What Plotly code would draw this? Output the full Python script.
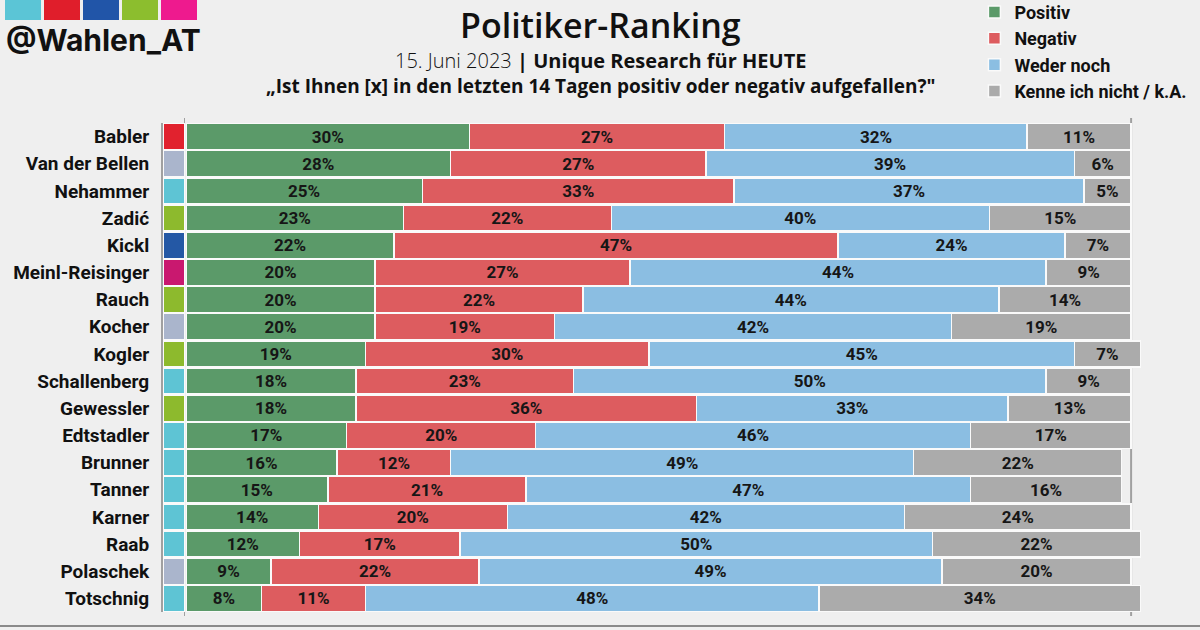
import plotly.graph_objects as go

# data
politiker = ['Babler', 'Van der Bellen', 'Nehammer', 'Zadić', 'Kickl', 'Meinl-Reisinger', 'Rauch',
             'Kocher', 'Kogler', 'Schallenberg', 'Gewessler', 'Edtstadler', 'Brunner', 'Tanner',
             'Karner', 'Raab', 'Polaschek', 'Totschnig']
positiv = [30, 28, 25, 23, 22, 20, 20, 20, 19, 18, 18, 17, 16, 15, 14, 12, 9, 8]
negativ = [27, 27, 33, 22, 47, 27, 22, 19, 30, 23, 36, 20, 12, 21, 20, 17, 22, 11]
weder_noch = [32, 39, 37, 40, 24, 44, 44, 42, 45, 50, 33, 46, 49, 47, 42, 50, 49, 48]
kenne_nicht = [11, 6, 5, 15, 7, 9, 14, 19, 7, 9, 13, 17, 22, 16, 24, 22, 20, 34]
partei = ['SPÖ', 'BP', 'ÖVP', 'Grüne', 'FPÖ', 'NEOS', 'Grüne', 'BP', 'Grüne', 'ÖVP', 'Grüne', 'ÖVP',
          'ÖVP', 'ÖVP', 'ÖVP', 'ÖVP', 'BP', 'ÖVP']

partei_farben = {'SPÖ': '#E1222E', 'BP': '#AAB5CC', 'ÖVP': '#5EC4D4', 'Grüne': '#8DBA2D',
                 'FPÖ': '#2458A5', 'NEOS': '#C9186F'}

serien = [('Positiv', positiv, '#5B9A69'),
          ('Negativ', negativ, '#DD5C5F'),
          ('Weder noch', weder_noch, '#8BBEE2'),
          ('Kenne ich nicht / k.A.', kenne_nicht, '#ABABAB')]

fig = go.Figure()

# party colour column
fig.add_trace(go.Bar(y=politiker, x=[1] * len(politiker), orientation='h', xaxis='x2', yaxis='y',
                     marker=dict(color=[partei_farben[p] for p in partei], line=dict(color='#FAFAFA', width=1.5)),
                     showlegend=False, hoverinfo='skip'))

for name, werte, farbe in serien:
    fig.add_trace(go.Bar(y=politiker, x=werte, name=name, orientation='h', xaxis='x', yaxis='y',
                         marker=dict(color=farbe, line=dict(color='#FAFAFA', width=1.5)),
                         text=[f'{v}%' for v in werte], textposition='inside', insidetextanchor='middle',
                         textangle=0, constraintext='none',
                         textfont=dict(family='Roboto', size=17, color='#161616', weight='bold')))

fig.update_layout(
    width=1200, height=630,
    barmode='stack', bargap=0.04,
    paper_bgcolor='#EFEFEF', plot_bgcolor='rgba(0,0,0,0)',
    margin=dict(l=0, r=0, t=0, b=0, autoexpand=False),
    xaxis=dict(domain=[186 / 1200, 1150 / 1200], range=[0, 102], showgrid=False, zeroline=False,
               showticklabels=False, anchor='y'),
    xaxis2=dict(domain=[163 / 1200, 185 / 1200], range=[0, 1], showgrid=False, zeroline=False,
                showticklabels=False, anchor='y'),
    yaxis=dict(domain=[1 - 612 / 630, 1 - 123 / 630], anchor='x2', categoryorder='array',
               categoryarray=politiker, autorange='reversed', showgrid=False, ticks='',
               showline=True, linecolor='#A0A0A0', linewidth=2, ticklabelstandoff=8,
               tickfont=dict(family='Roboto', size=19, color='#111111', weight='bold')),
    legend=dict(x=0.812, y=1.01, xanchor='left', yanchor='top', bgcolor='rgba(0,0,0,0)',
                font=dict(family='Roboto', size=18, color='#111111', weight='bold'), traceorder='normal'),
    font=dict(family='Open Sans'),
)

# frame lines
fig.add_shape(type='line', xref='x2', yref='paper', x0=1, x1=1, y0=1 - 616 / 630, y1=1 - 118 / 630,
              line=dict(color='#A0A0A0', width=2), layer='below')
fig.add_shape(type='line', xref='x', yref='paper', x0=100, x1=100, y0=1 - 616 / 630, y1=1 - 118 / 630,
              line=dict(color='#A0A0A0', width=2), layer='below')
fig.add_shape(type='line', xref='paper', yref='paper', x0=0, x1=1, y0=1 - 626 / 630, y1=1 - 626 / 630,
              line=dict(color='#8A8A8A', width=2))

# logo squares
logo_farben = ['#5BC5D6', '#E01E2B', '#2155A8', '#8CBE2E', '#EE1A8E']
for i, c in enumerate(logo_farben):
    fig.add_shape(type='rect', xref='paper', yref='paper', x0=(5 + i * 39) / 1200, x1=(41 + i * 39) / 1200,
                  y0=1 - 20 / 630, y1=1, fillcolor=c, line=dict(width=0))

fig.add_annotation(text='@Wahlen_AT', xref='paper', yref='paper', x=4 / 1200, y=1 - 40 / 630,
                   xanchor='left', yanchor='middle', showarrow=False,
                   font=dict(family='Inter', size=30, color='#111111', weight='bold'))
fig.add_annotation(text='Politiker-Ranking', xref='paper', yref='paper', x=600 / 1200, y=1 - 25 / 630,
                   xanchor='center', yanchor='middle', showarrow=False,
                   font=dict(family='Open Sans', size=34, color='#111111', weight=600))
fig.add_annotation(text='<span style="font-weight:300">15. Juni 2023</span> <b>| Unique Research für HEUTE</b>',
                   xref='paper', yref='paper',
                   x=600 / 1200, y=1 - 60 / 630, xanchor='center', yanchor='middle', showarrow=False,
                   font=dict(family='Open Sans', size=20, color='#111111'))
fig.add_annotation(text='<b>„Ist Ihnen [x] in den letzten 14 Tagen positiv oder negativ aufgefallen?"</b>',
                   xref='paper', yref='paper', x=601 / 1200, y=1 - 86.5 / 630, xanchor='center',
                   yanchor='middle', showarrow=False,
                   font=dict(family='Open Sans', size=19, color='#111111'))

# drop the default page margin so the figure sits flush in the window
fig.write_html("out.html", config={'displayModeBar': False},
               post_script="document.body.style.margin = '0';")
